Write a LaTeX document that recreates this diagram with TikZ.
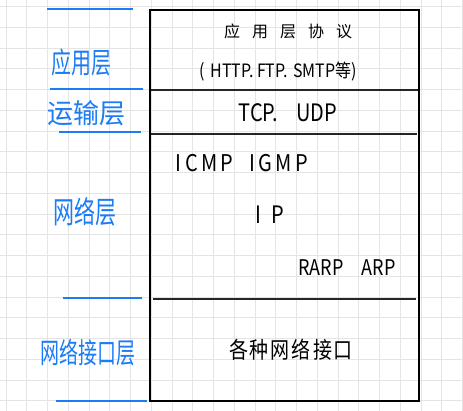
\documentclass[tikz,border=0pt]{standalone}
\usepackage{fontspec}
\usepackage{graphicx}
\setmainfont{Noto Sans CJK SC}
\newfontfamily\cjk{Noto Sans CJK SC}
\definecolor{penblue}{RGB}{28,124,245}
\definecolor{gridgray}{RGB}{228,228,228}
\begin{document}
\begin{tikzpicture}[x=1pt,y=-1pt,
  bluelab/.style={text=penblue, inner sep=0pt, font=\cjk},
  blacklab/.style={text=black, inner sep=0pt, font=\cjk},
  blueline/.style={draw=penblue, line width=1.8pt},
  boxline/.style={draw=black, line width=2pt},
  divline/.style={draw=black!85, line width=1.5pt}]
\useasboundingbox (0,0) rectangle (463,411);
\fill[white] (0,0) rectangle (463,411);
% grid
\foreach \k in {0,...,22} {
  \draw[gridgray, line width=0.8pt] ({6+20.75*\k},0) -- ({6+20.75*\k},411);
}
\foreach \k in {0,...,19} {
  \draw[gridgray, line width=0.8pt] (0,{6.5+20.75*\k}) -- (463,{6.5+20.75*\k});
}
% main box
\draw[boxline] (150,10) rectangle (419,401);
\coordinate (d1l) at (151,90);  \coordinate (d1r) at (418,90);
\coordinate (d2l) at (151,134); \coordinate (d2r) at (417,134);
\coordinate (d3l) at (153,299); \coordinate (d3r) at (416,299);
\draw[divline] (d1l) -- (d1r);
\draw[divline] (d2l) -- (d2r);
\draw[divline] (d3l) -- (d3r);
% blue side lines
\coordinate (b1l) at (47,9);   \coordinate (b1r) at (133,9);
\coordinate (b2l) at (50,89);  \coordinate (b2r) at (143,89);
\coordinate (b3l) at (59,132); \coordinate (b3r) at (141,132);
\coordinate (b4l) at (63,298); \coordinate (b4r) at (142,298);
\coordinate (b5l) at (56,401); \coordinate (b5r) at (147,401);
\draw[blueline] (b1l) -- (b1r);
\draw[blueline] (b2l) -- (b2r);
\draw[blueline] (b3l) -- (b3r);
\draw[blueline] (b4l) -- (b4r);
\draw[blueline] (b5l) -- (b5r);
% blue labels
\node[bluelab, font=\cjk\fontsize{20}{20}\selectfont] (app) at (81,62) {\scalebox{1}[1.45]{应用层}};
\node[bluelab, font=\cjk\fontsize{26}{26}\selectfont] (trans) at (86,113) {\scalebox{1}[1.05]{运输层}};
\node[bluelab, font=\cjk\fontsize{21}{21}\selectfont] (net) at (85,212) {\scalebox{1}[1.45]{网络层}};
\node[bluelab, font=\cjk\fontsize{19}{19}\selectfont] (link) at (88,353) {\scalebox{1}[1.5]{网络接口层}};
% black labels
\node[blacklab, font=\cjk\fontsize{16}{16}\selectfont] (appproto) at (288,31)
  {应\hspace{12pt}用\hspace{12pt}层\hspace{12pt}协\hspace{12pt}议};
\node[blacklab, font=\cjk\fontsize{16}{16}\selectfont] (appex) at (278,72)
  {\scalebox{1}[1.15]{(\hspace{6pt}HTTP.\hspace{3pt}FTP.\hspace{5pt}SMTP等)}};
\node[blacklab, font=\cjk\fontsize{20}{20}\selectfont] (tcpudp) at (288,113)
  {\scalebox{1}[1.2]{TCP.\hspace{18pt}UDP}};
\node[blacklab, font=\cjk\fontsize{20}{20}\selectfont] (icmp) at (242,163)
  {\scalebox{1}[1.15]{I\,C\,M\,P\hspace{16pt}I\,G\,M\,P}};
\node[blacklab, font=\cjk\fontsize{20}{20}\selectfont] (ip) at (270,215)
  {\scalebox{1}[1.2]{I\hspace{10pt}P}};
\node[blacklab, font=\cjk\fontsize{18}{18}\selectfont] (arp) at (347,268)
  {\scalebox{1}[1.2]{RARP\hspace{18pt}ARP}};
\node[blacklab, font=\cjk\fontsize{19}{19}\selectfont] (iface) at (291,350)
  {\scalebox{1}[1.2]{各\hspace{2pt}种\hspace{2pt}网\hspace{2pt}络\hspace{2pt}接\hspace{2pt}口}};
\end{tikzpicture}
\end{document}
